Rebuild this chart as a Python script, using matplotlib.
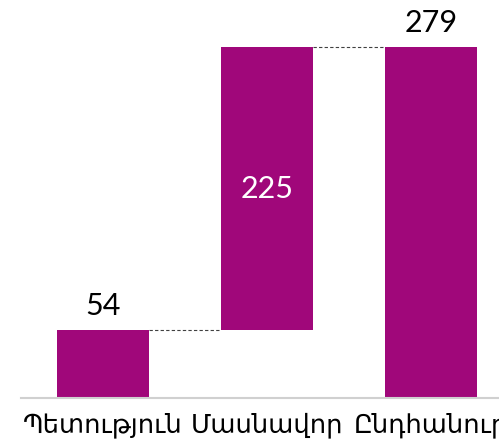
import matplotlib
matplotlib.use("Agg")
import matplotlib.pyplot as plt

categories = ["Պետություն", "Մասնավոր", "Ընդհանուր"]
values = [54, 225, 279]
bottoms = [0, 54, 0]
color = "#A0077A"

fig = plt.figure(figsize=(4.99, 4.40), dpi=100)
ax = fig.add_axes([21/499, 42/440, 492/499, 398/440])
x = list(range(len(categories)))
w = 0.555
ax.bar(x, values, bottom=bottoms, width=w, color=color)
ax.set_xlim(-0.5, 2.5)
ax.set_ylim(0, 398/1.258)

fam = ['Lato', 'DejaVu Sans']
fs = 22
# value labels
ax.text(x[0], bottoms[0] + values[0] + 8, str(values[0]), ha='center', va='bottom', fontsize=fs, family=fam)
ax.text(x[1], bottoms[1] + values[1] / 2, str(values[1]), ha='center', va='center', fontsize=fs, family=fam, color='white')
ax.text(x[2], bottoms[2] + values[2] + 8, str(values[2]), ha='center', va='bottom', fontsize=fs, family=fam)

# connectors
ax.plot([x[0] + w/2, x[1] - w/2], [values[0], values[0]], ls=(0, (3, 2)), color='#404040', lw=0.8)
ax.plot([x[1] + w/2, x[2] - w/2], [bottoms[1] + values[1]] * 2, ls=(0, (3, 2)), color='#404040', lw=0.8)

for s in ['top', 'right', 'left']:
    ax.spines[s].set_visible(False)
ax.spines['bottom'].set_color('#D0D0D0')
ax.spines['bottom'].set_linewidth(1.5)
ax.set_yticks([])
ax.set_xticks(x)
ax.set_xticklabels(categories, fontsize=18.5, family=['DejaVu Sans'])
ax.tick_params(axis='x', length=0, pad=10)

fig.savefig("out.png", dpi=100)
